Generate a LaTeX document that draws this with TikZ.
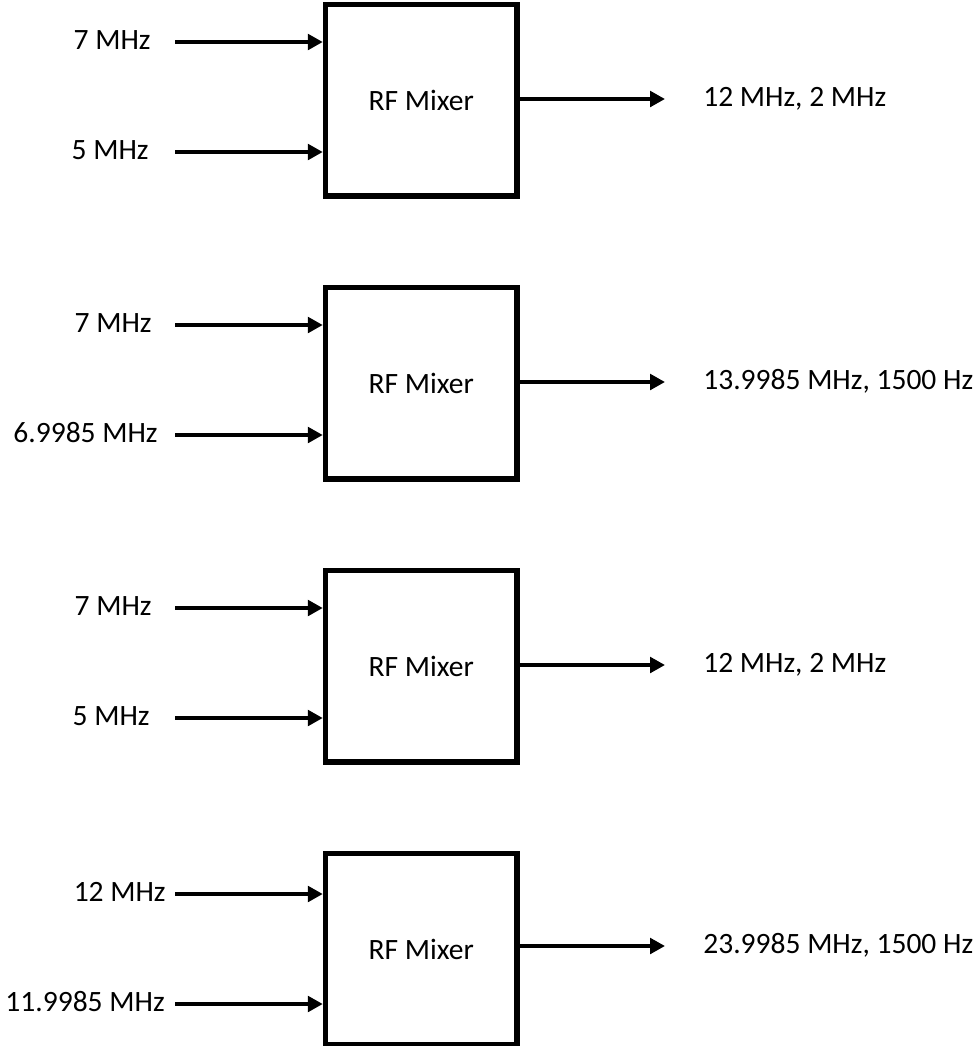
\documentclass[tikz,border=0pt]{standalone}
\usepackage{fontspec}
\setmainfont{Carlito}
\usetikzlibrary{arrows.meta}

\begin{document}
\begin{tikzpicture}[x=0.02cm, y=-0.02cm, font=\fontsize{16.8}{20}\selectfont,
    mixer/.style={draw, line width=3.1pt, minimum width=3.83cm,
      minimum height=3.83cm, inner sep=0pt},
    freq/.style={inner sep=0pt, text height=0.9em, text depth=0pt},
    sig/.style={line width=2.75pt, -{Triangle[length=8.5pt, width=8.8pt]}}]

  % -------------------------------------------------------
  % Units are pixels of the 977 x 1046 page (y grows down)
  % Blocks are 283 px apart, inputs at +42 and +152
  % -------------------------------------------------------
  \useasboundingbox (0, 0) rectangle (977, 1046);

  % ---- Mixer 1 : 7 MHz and 5 MHz ----
  \node[mixer] (mix1) at (421.25, 100.25) {RF Mixer};
  \coordinate (in1a) at (175, 42);
  \coordinate (in1b) at (175, 152);
  \coordinate (out1) at (665, 99);
  \node[freq, anchor=east] (f1a) at (151, 42) {7 MHz};
  \node[freq, anchor=east] (f1b) at (149, 152) {5 MHz};
  \node[freq, anchor=west] (f1o) at (703, 99) {12 MHz, 2 MHz};
  \draw[sig] (in1a) -- (mix1.west |- in1a);
  \draw[sig] (in1b) -- (mix1.west |- in1b);
  \draw[sig] (mix1.east |- out1) -- (out1);

  % ---- Mixer 2 : 7 MHz and 6.9985 MHz ----
  \node[mixer] (mix2) at (421.25, 383.25) {RF Mixer};
  \coordinate (in2a) at (175, 325);
  \coordinate (in2b) at (175, 435);
  \coordinate (out2) at (665, 382);
  \node[freq, anchor=east] (f2a) at (152, 325) {7 MHz};
  \node[freq, anchor=east] (f2b) at (158, 435) {6.9985 MHz};
  \node[freq, anchor=west] (f2o) at (703, 382) {13.9985 MHz, 1500 Hz};
  \draw[sig] (in2a) -- (mix2.west |- in2a);
  \draw[sig] (in2b) -- (mix2.west |- in2b);
  \draw[sig] (mix2.east |- out2) -- (out2);

  % ---- Mixer 3 : 7 MHz and 5 MHz again ----
  \node[mixer] (mix3) at (421.25, 666.25) {RF Mixer};
  \coordinate (in3a) at (175, 608);
  \coordinate (in3b) at (175, 718);
  \coordinate (out3) at (665, 665);
  \node[freq, anchor=east] (f3a) at (152, 608) {7 MHz};
  \node[freq, anchor=east] (f3b) at (150, 718) {5 MHz};
  \node[freq, anchor=west] (f3o) at (703, 665) {12 MHz, 2 MHz};
  \draw[sig] (in3a) -- (mix3.west |- in3a);
  \draw[sig] (in3b) -- (mix3.west |- in3b);
  \draw[sig] (mix3.east |- out3) -- (out3);

  % ---- Mixer 4 : 12 MHz and 11.9985 MHz ----
  \node[mixer] (mix4) at (421.25, 949.25) {RF Mixer};
  \coordinate (in4a) at (175, 894);
  \coordinate (in4b) at (175, 1004);
  \coordinate (out4) at (665, 946);
  \node[freq, anchor=east] (f4a) at (166, 894) {12 MHz};
  \node[freq, anchor=east] (f4b) at (165, 1004) {11.9985 MHz};
  \node[freq, anchor=west] (f4o) at (703, 946) {23.9985 MHz, 1500 Hz};
  \draw[sig] (in4a) -- (mix4.west |- in4a);
  \draw[sig] (in4b) -- (mix4.west |- in4b);
  \draw[sig] (mix4.east |- out4) -- (out4);

\end{tikzpicture}
\end{document}
